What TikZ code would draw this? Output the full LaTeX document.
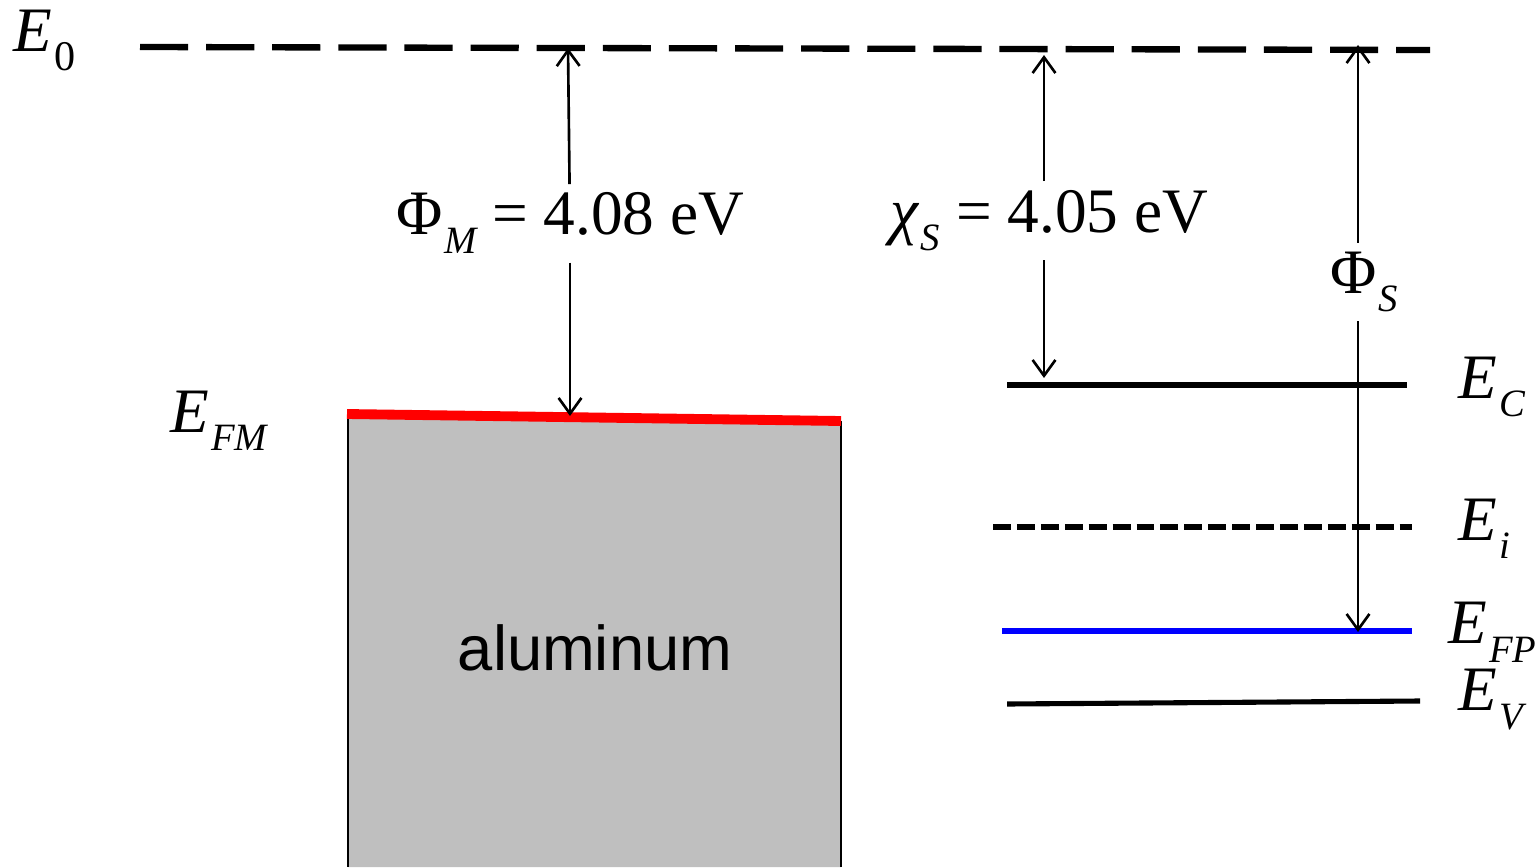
\documentclass[tikz,border=0pt]{standalone}
\usepackage{fontspec}
\setmainfont{Liberation Serif}
\setsansfont{Liberation Sans}
\usepackage{xcolor}
\usepackage{tikz}
\usetikzlibrary{arrows.meta,positioning,calc}
\definecolor{algray}{HTML}{BFBFBF}
\newcommand\lvsub[2]{#1\kern0.5pt\raisebox{-0.3em}{\fontsize{11}{11}\selectfont\itshape #2}}
\tikzset{
  lbl/.style    ={inner sep=0pt,font=\fontsize{18}{20}\selectfont},
  gaplbl/.style ={inner sep=0.08cm,font=\fontsize{18}{20}\selectfont},
  vacuum/.style ={line width=1.8pt,dash pattern=on 13.7pt off 5.1pt},
  band/.style   ={line width=1.45pt},
  intr/.style   ={line width=1.6pt,dash pattern=on 5.1pt off 1.7pt},
  fermi/.style  ={line width=1.45pt,blue},
  dim/.style    ={line width=0.75pt,-{Straight Barb[length=4.5pt,width=6.5pt]}},
}
\begin{document}
\begin{tikzpicture}[x=0.01cm,y=-0.01cm]
  \useasboundingbox (0,0) rectangle (1537,867);
  % metal block
  \fill[algray] (348,416) -- (841,421) -- (841,867) -- (348,867) -- cycle;
  \draw[line width=0.7pt] (348,416) -- (348,867) (841,421) -- (841,867);
  \draw[red,line width=2.8pt] (347,414) -- (841,421);
  \node[lbl,font=\sffamily\fontsize{18}{20}\selectfont] (al) at (595,648) {aluminum};
  % levels
  \draw[vacuum] (140,47) -- (1430,50);
  \draw[band] (1007,385) -- (1407,385);
  \draw[intr] (993,527) -- (1412,527);
  \draw[fermi] (1002,631) -- (1412,631);
  \draw[band] (1007,704) -- (1420,701);
  % level names
  \node[lbl,anchor=base west] (e0) at (13,52) {\textit{E}\kern0.5pt\raisebox{-0.3em}{\fontsize{12}{12}\selectfont 0}};
  \node[lbl,anchor=base west] (efm) at (170,432) {\lvsub{\textit{E}}{FM}};
  \node[lbl,anchor=base west] (ec) at (1458,398) {\lvsub{\textit{E}}{C}};
  \node[lbl,anchor=base west] (ei) at (1458,540) {\lvsub{\textit{E}}{i}};
  \node[lbl,anchor=base west] (efp) at (1448,643) {\lvsub{\textit{E}}{FP}};
  \node[lbl,anchor=base west] (ev) at (1458,710) {\lvsub{\textit{E}}{V}};
  % energy gaps
  \coordinate (m0) at (568,48);  \coordinate (mF) at (570,416);
  \coordinate (c0) at (1044,55); \coordinate (cC) at (1044,378);
  \coordinate (s0) at (1358,45); \coordinate (sF) at (1358,632);
  \node[gaplbl,anchor=base] (phim) at (570,235) {\lvsub{Φ}{M} = 4.08 eV};
  \node[gaplbl,anchor=base] (chis) at (1049,232) {\lvsub{\textit{χ}}{S} = 4.05 eV};
  \node[gaplbl,anchor=base] (phis) at (1364,293) {\lvsub{Φ}{S}};
  \draw[dim] (phim) -- (m0); \draw[dim] (phim) -- (mF);
  \draw[dim] (chis.north -| c0) -- (c0); \draw[dim] (chis.south -| cC) -- (cC);
  \draw[dim] (phis.north -| s0) -- (s0); \draw[dim] (phis.south -| sF) -- (sF);
\end{tikzpicture}
\end{document}
